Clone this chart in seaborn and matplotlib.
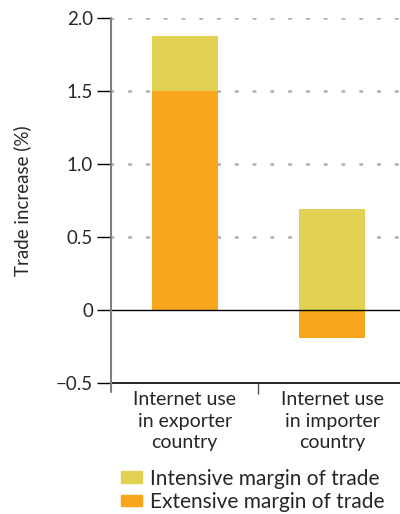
import numpy as np
import pandas as pd
import seaborn as sns
import matplotlib.pyplot as plt

# data
categories = ["Internet use\nin exporter\ncountry", "Internet use\nin importer\ncountry"]
extensive = [1.50, -0.19]
intensive = [0.38, 0.69]
y_ticks = [-0.5, 0, 0.5, 1.0, 1.5, 2.0]
y_tick_labels = ["\u22120.5", "0", "0.5", "1.0", "1.5", "2.0"]

c_int = "#E3D154"
c_ext = "#F7A61E"

sns.set_style("white")
plt.rcParams["font.family"] = ["Lato", "DejaVu Sans"]

# intensive margin stacks on top of the positive part of the extensive margin
base = np.clip(extensive, 0, None)
df = pd.DataFrame({
    "cat": categories,
    "total": base + np.array(intensive),
    "ext": extensive,
})

fig = plt.figure(figsize=(4, 5.14), dpi=100)
ax = fig.add_axes([0.2775, 0.2549, 0.7225, 0.7101])

# dotted grid
for v in [0.5, 1.0, 1.5, 2.0]:
    ax.axhline(v, color="#b3b3b3", lw=2, ls=(0, (0.6, 5.8)), zorder=0, dash_capstyle="round")

sns.barplot(data=df, x="cat", y="total", color=c_int, width=0.45, saturation=1, ax=ax,
            zorder=2, linewidth=0)
sns.barplot(data=df, x="cat", y="ext", color=c_ext, width=0.45, saturation=1, ax=ax,
            zorder=3, linewidth=0)

ax.axhline(0, color="black", lw=1, zorder=4)
ax.axhline(-0.5, color="black", lw=1.2, zorder=4, clip_on=False)

ax.set_ylim(-0.5, 2.0)
ax.set_xlim(-0.5, 1.46)
ax.set_yticks(y_ticks)
ax.set_yticklabels(y_tick_labels, fontsize=13.5)
ax.tick_params(axis="y", length=10, width=1, color="black", pad=3, left=True)

# separator tick between the two categories
ax.set_xticks([0.5], minor=True)
ax.tick_params(axis="x", which="minor", length=8, width=1, color="#555555", bottom=True)
ax.tick_params(axis="x", which="major", length=0, pad=6, labelsize=14)
ax.set_xlabel("")
ax.set_ylabel("Trade increase (%)", fontsize=13.5, labelpad=18)

for s in ["top", "right", "bottom", "left"]:
    ax.spines[s].set_visible(False)
ax.plot([0, 0], [-0.025, 1], transform=ax.transAxes, color="#808080", lw=1.5, clip_on=False, zorder=5)

for t in ax.get_xticklabels():
    t.set_linespacing(1.3)

handles = [plt.Rectangle((0, 0), 1, 1, color=c_int), plt.Rectangle((0, 0), 1, 1, color=c_ext)]
fig.legend(handles, ["Intensive margin of trade", "Extensive margin of trade"],
           loc="upper left", bbox_to_anchor=(0.302, 0.088), frameon=False, fontsize=15,
           handlelength=1.0, handleheight=0.5, handletextpad=0.4, labelspacing=0.15,
           borderaxespad=0, borderpad=0)

fig.savefig("out.png", dpi=100)
